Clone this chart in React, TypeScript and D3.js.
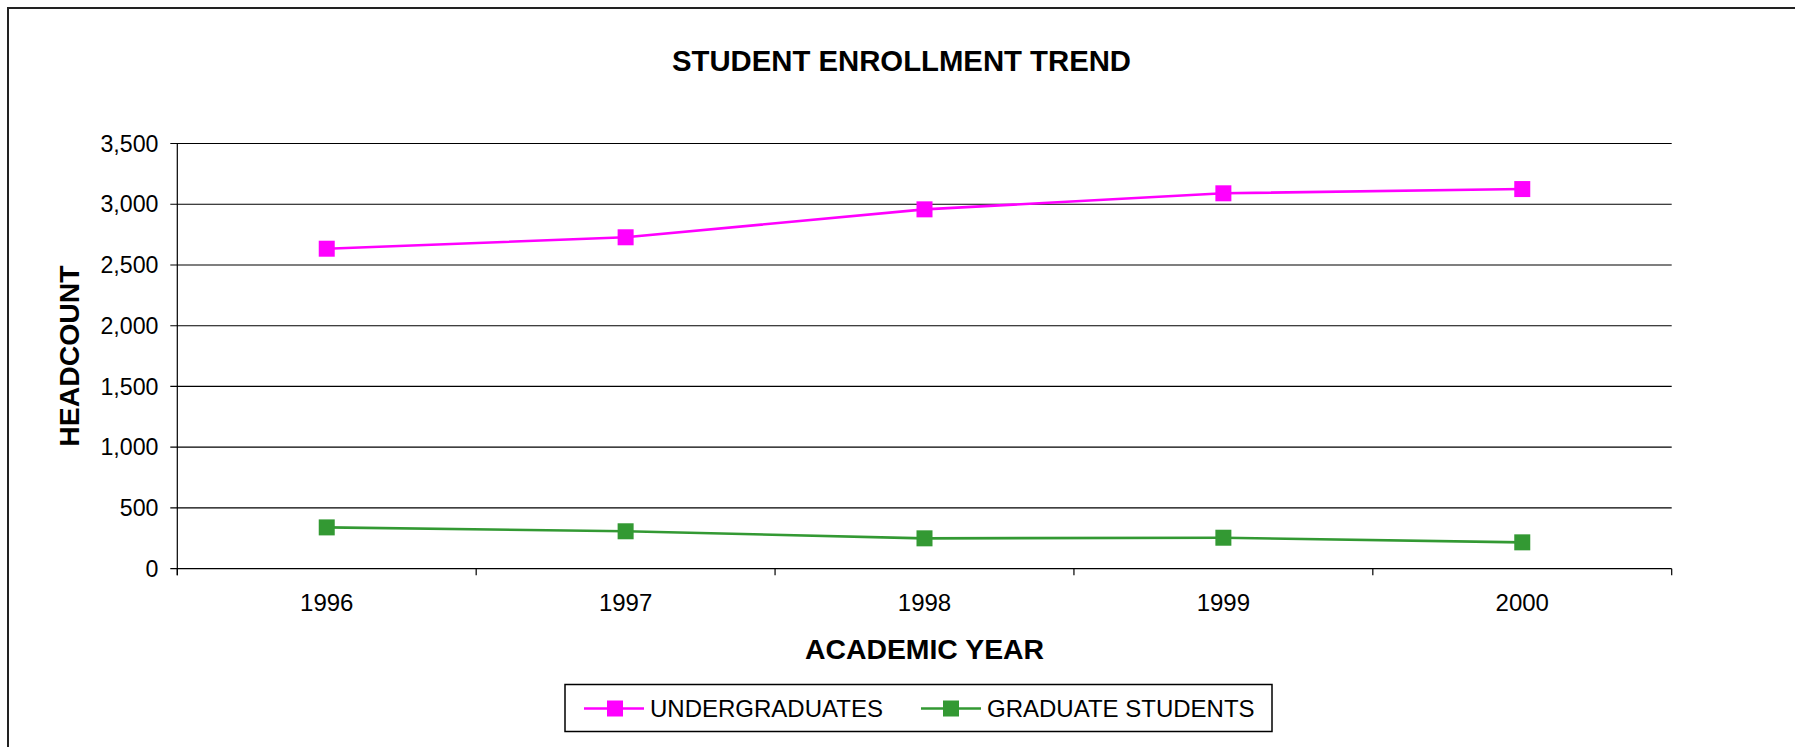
import React from "react";
import * as d3 from "d3";

const years = ["1996", "1997", "1998", "1999", "2000"];
const undergraduates = [2634, 2728, 2958, 3090, 3125];
const graduates = [340, 308, 250, 255, 217];
const yTicks = [0, 500, 1000, 1500, 2000, 2500, 3000, 3500];
const seriesNames = ["UNDERGRADUATES", "GRADUATE STUDENTS"];
const seriesColors = ["#FF00FF", "#339933"];

const W = 1795;
const H = 747;
const FONT = "Arial, 'Liberation Sans', Helvetica, sans-serif";

export default function App() {
  const left = 177.3, right = 1671.7, top = 143.5, bottom = 568.7;
  const x = d3.scaleBand<string>().domain(years).range([left, right]);
  const y = d3.scaleLinear().domain([0, 3500]).range([bottom, top]);
  const cx = (yr: string) => (x(yr) as number) + x.bandwidth() / 2;
  const fmt = d3.format(",");
  const line = d3
    .line<number>()
    .x((_, i) => cx(years[i]))
    .y((v) => y(v));
  const series = [undergraduates, graduates];
  const M = 16;
  const boundaries = years.map((yr) => x(yr) as number).concat([right]);

  const legend = [
    { lx1: 584, lx2: 644, mx: 615, tx: 650 },
    { lx1: 921, lx2: 981, mx: 951, tx: 987 },
  ];
  const ly = 708.5;

  return (
    <svg
      width={W}
      height={H}
      style={{ position: "absolute", left: 0, top: 0, display: "block", background: "#fff" }}
      fontFamily={FONT}
    >
      <rect x={0} y={0} width={W} height={H} fill="#fff" />
      <rect x={8} y={8} width={1900} height={900} fill="none" stroke="#222" strokeWidth={2} />

      {/* title */}
      <text x={901.5} y={70.5} textAnchor="middle" fontSize={29.3} fontWeight="bold" fill="#000">
        STUDENT ENROLLMENT TREND
      </text>

      {/* gridlines */}
      {yTicks.map((t) => (
        <line key={"g" + t} x1={left - 7} x2={right} y1={y(t)} y2={y(t)} stroke="#000" strokeWidth={1.2} />
      ))}
      {/* y axis */}
      <line x1={left} x2={left} y1={top} y2={bottom + 6.5} stroke="#000" strokeWidth={1.2} />
      {/* x ticks */}
      {boundaries.map((bx, i) => (
        <line key={"xt" + i} x1={bx} x2={bx} y1={bottom} y2={bottom + 6.5} stroke="#000" strokeWidth={1.2} />
      ))}
      {/* y labels */}
      {yTicks.map((t) => (
        <text key={"yl" + t} x={158.5} y={y(t)} dy="0.35em" textAnchor="end" fontSize={23.2} fill="#000">
          {fmt(t)}
        </text>
      ))}
      {/* x labels */}
      {years.map((yr) => (
        <text key={"xl" + yr} x={cx(yr)} y={610.5} textAnchor="middle" fontSize={24} fill="#000">
          {yr}
        </text>
      ))}

      {/* axis titles */}
      <text x={(left + right) / 2} y={659.3} textAnchor="middle" fontSize={28.4} fontWeight="bold" fill="#000">
        ACADEMIC YEAR
      </text>
      <text
        transform={`translate(78.5, ${(top + bottom) / 2}) rotate(-90)`}
        textAnchor="middle"
        fontSize={28.4}
        fontWeight="bold"
        fill="#000"
      >
        HEADCOUNT
      </text>

      {/* series */}
      {series.map((s, si) => (
        <g key={"s" + si}>
          <path d={line(s) as string} fill="none" stroke={seriesColors[si]} strokeWidth={2.6} />
          {s.map((v, i) => (
            <rect
              key={"m" + i}
              x={cx(years[i]) - M / 2}
              y={y(v) - M / 2}
              width={M}
              height={M}
              fill={seriesColors[si]}
            />
          ))}
        </g>
      ))}

      {/* legend */}
      <rect x={565} y={684.5} width={707} height={47} fill="#fff" stroke="#000" strokeWidth={1.5} />
      {legend.map((l, i) => (
        <g key={"lg" + i}>
          <line x1={l.lx1} x2={l.lx2} y1={ly} y2={ly} stroke={seriesColors[i]} strokeWidth={2.6} />
          <rect x={l.mx - M / 2} y={ly - M / 2} width={M} height={M} fill={seriesColors[i]} />
          <text x={l.tx} y={ly} dy="0.35em" fontSize={24} fill="#000">
            {seriesNames[i]}
          </text>
        </g>
      ))}
    </svg>
  );
}
